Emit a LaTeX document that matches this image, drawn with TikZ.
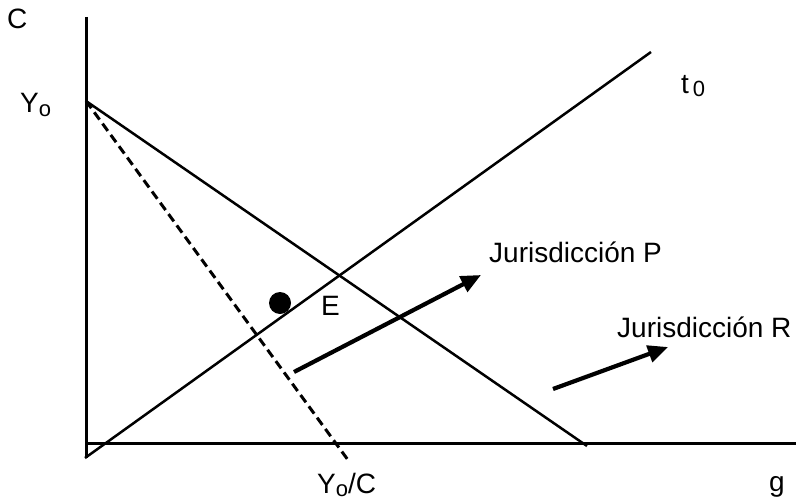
\documentclass[tikz,border=0pt]{standalone}
\usepackage{fontspec}
\setmainfont{Liberation Sans}
\usetikzlibrary{arrows.meta}
\begin{document}
\begin{tikzpicture}[x=1pt,y=-1pt,
  axis/.style={line width=3pt},
  curve/.style={line width=2.5pt},
  dashline/.style={line width=3pt,dash pattern=on 9pt off 5pt},
  movearrow/.style={line width=4.2pt,-{Triangle[length=20pt,width=17pt]}},
  lbl/.style={inner sep=0pt,anchor=base west,font=\fontsize{28}{32}\selectfont},
  subfont/.style={}]
\useasboundingbox (0,0) rectangle (799,500);
% coordinates
\coordinate (ytop) at (86,17);
\coordinate (origin) at (86,443);
\coordinate (xend) at (796,443);
\coordinate (yo) at (86,101);
\coordinate (bend) at (587,446);
\coordinate (dend) at (348,460);
\coordinate (tstart) at (85,458);
\coordinate (tend) at (651,52);
\coordinate (pstart) at (294,372);
\coordinate (pend) at (481,275);
\coordinate (rstart) at (553,389);
\coordinate (rend) at (668,347);
% axes
\draw[axis] (ytop) -- (86,458);
\draw[axis] (origin) -- (xend);
% lines
\draw[curve] (yo) -- (bend);
\draw[dashline] (yo) -- (dend);
\draw[curve] (tstart) -- (tend);
% arrows
\draw[movearrow] (pstart) -- (pend);
\draw[movearrow] (rstart) -- (rend);
% dot
\fill (280,303) circle (11);
% labels
\node[lbl] (lc) at (7,29) {C};
\node[lbl] (lyo) at (20,113) {Y\raisebox{-3pt}{\fontsize{22}{24}\selectfont o}};
\node[lbl] (lt) at (681,93) {t\hspace{4pt}\raisebox{-3pt}{\fontsize{22}{24}\selectfont 0}};
\node[lbl] (le) at (321,315) {E};
\node[lbl] (lp) at (489,262) {Jurisdicción P};
\node[lbl] (lr) at (617,337) {Jurisdicción R};
\node[lbl] (lg) at (769,491) {g};
\node[lbl] (lyc) at (317,493) {Y\raisebox{-3pt}{\fontsize{22}{24}\selectfont o}/C};
\end{tikzpicture}
\end{document}
